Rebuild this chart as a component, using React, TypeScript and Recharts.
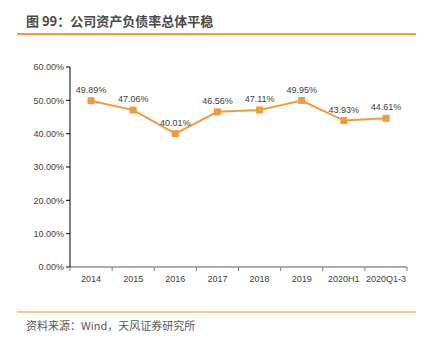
import React from "react";
import { LineChart, Line, XAxis, YAxis, LabelList } from "recharts";

const categories = ["2014", "2015", "2016", "2017", "2018", "2019", "2020H1", "2020Q1-3"];
const debtRatio = [49.89, 47.06, 40.01, 46.56, 47.11, 49.95, 43.93, 44.61];
const yTicks = [0, 10, 20, 30, 40, 50, 60];

const data = categories.map((c, i) => ({ name: c, value: debtRatio[i] }));

const W = 427;
const H = 347;
const X_H = 30;
const M = { top: 67, right: 20, bottom: 50, left: 20 };
const Y_W = 50;
const PLOT_W = W - M.left - M.right - Y_W;
const BAND = PLOT_W / categories.length;

const FONT = "'Liberation Sans', Arial, sans-serif";
const ORANGE = "#F39A3C";

const XTick = (props: any) => {
  const { x, y, payload, index } = props;
  const last = index === categories.length - 1;
  const ty = y - 8;
  return (
    <g>
      <line x1={x - BAND / 2} x2={x - BAND / 2} y1={ty} y2={ty + 4} stroke="#808080" />
      {last && <line x1={x + BAND / 2} x2={x + BAND / 2} y1={ty} y2={ty + 4} stroke="#808080" />}
      <text x={x} y={y + 7} textAnchor="middle" fontSize={9} fill="#404040" fontFamily={FONT}>
        {payload.value}
      </text>
    </g>
  );
};

export default function App() {
  return (
    <div style={{ position: "absolute", left: 0, top: 0, width: W, height: H, background: "#fff" }}>
      <div
        style={{
          position: "absolute",
          left: 26,
          top: 12,
          fontSize: 13,
          fontWeight: "bold",
          color: "#4a4a4a",
          fontFamily: "'Noto Sans CJK SC', sans-serif",
          lineHeight: "18px",
          whiteSpace: "nowrap",
        }}
      >
        图 99：公司资产负债率总体平稳
      </div>
      <div style={{ position: "absolute", left: 17, top: 33, width: 399, height: 2, background: ORANGE }} />
      <div style={{ position: "absolute", left: 0, top: 0 }}>
        <LineChart width={W} height={H} data={data} margin={M}>
          <XAxis
            dataKey="name"
            height={X_H}
            padding={{ left: BAND / 2, right: BAND / 2 }}
            axisLine={{ stroke: "#909090", strokeWidth: 1.5 }}
            tickLine={false}
            tick={<XTick />}
            interval={0}
          />
          <YAxis
            width={Y_W}
            domain={[0, 60]}
            ticks={yTicks}
            tickFormatter={(v: number) => `${v.toFixed(2)}%`}
            axisLine={{ stroke: "#000" }}
            tickLine={{ stroke: "#000" }}
            tickSize={4}
            tick={{ fontSize: 9, fill: "#404040", fontFamily: FONT }}
          />
          <Line
            dataKey="value"
            stroke={ORANGE}
            strokeWidth={2}
            isAnimationActive={false}
            dot={(p: any) => (
              <rect key={p.index} x={p.cx - 3.5} y={p.cy - 3.5} width={7} height={7} fill={ORANGE} />
            )}
          >
            <LabelList
              dataKey="value"
              position="top"
              offset={8}
              formatter={(v: number) => `${v.toFixed(2)}%`}
              style={{ fontSize: 9, fill: "#404040", fontFamily: FONT }}
            />
          </Line>
        </LineChart>
      </div>
      <div style={{ position: "absolute", left: 17, top: 311, width: 399, height: 2, background: "#F9C79A" }} />
      <div
        style={{
          position: "absolute",
          left: 26,
          top: 317,
          fontSize: 11,
          color: "#595959",
          fontFamily: "'Noto Sans CJK SC', sans-serif",
          lineHeight: "16px",
          whiteSpace: "nowrap",
        }}
      >
        资料来源：Wind，天风证券研究所
      </div>
    </div>
  );
}
